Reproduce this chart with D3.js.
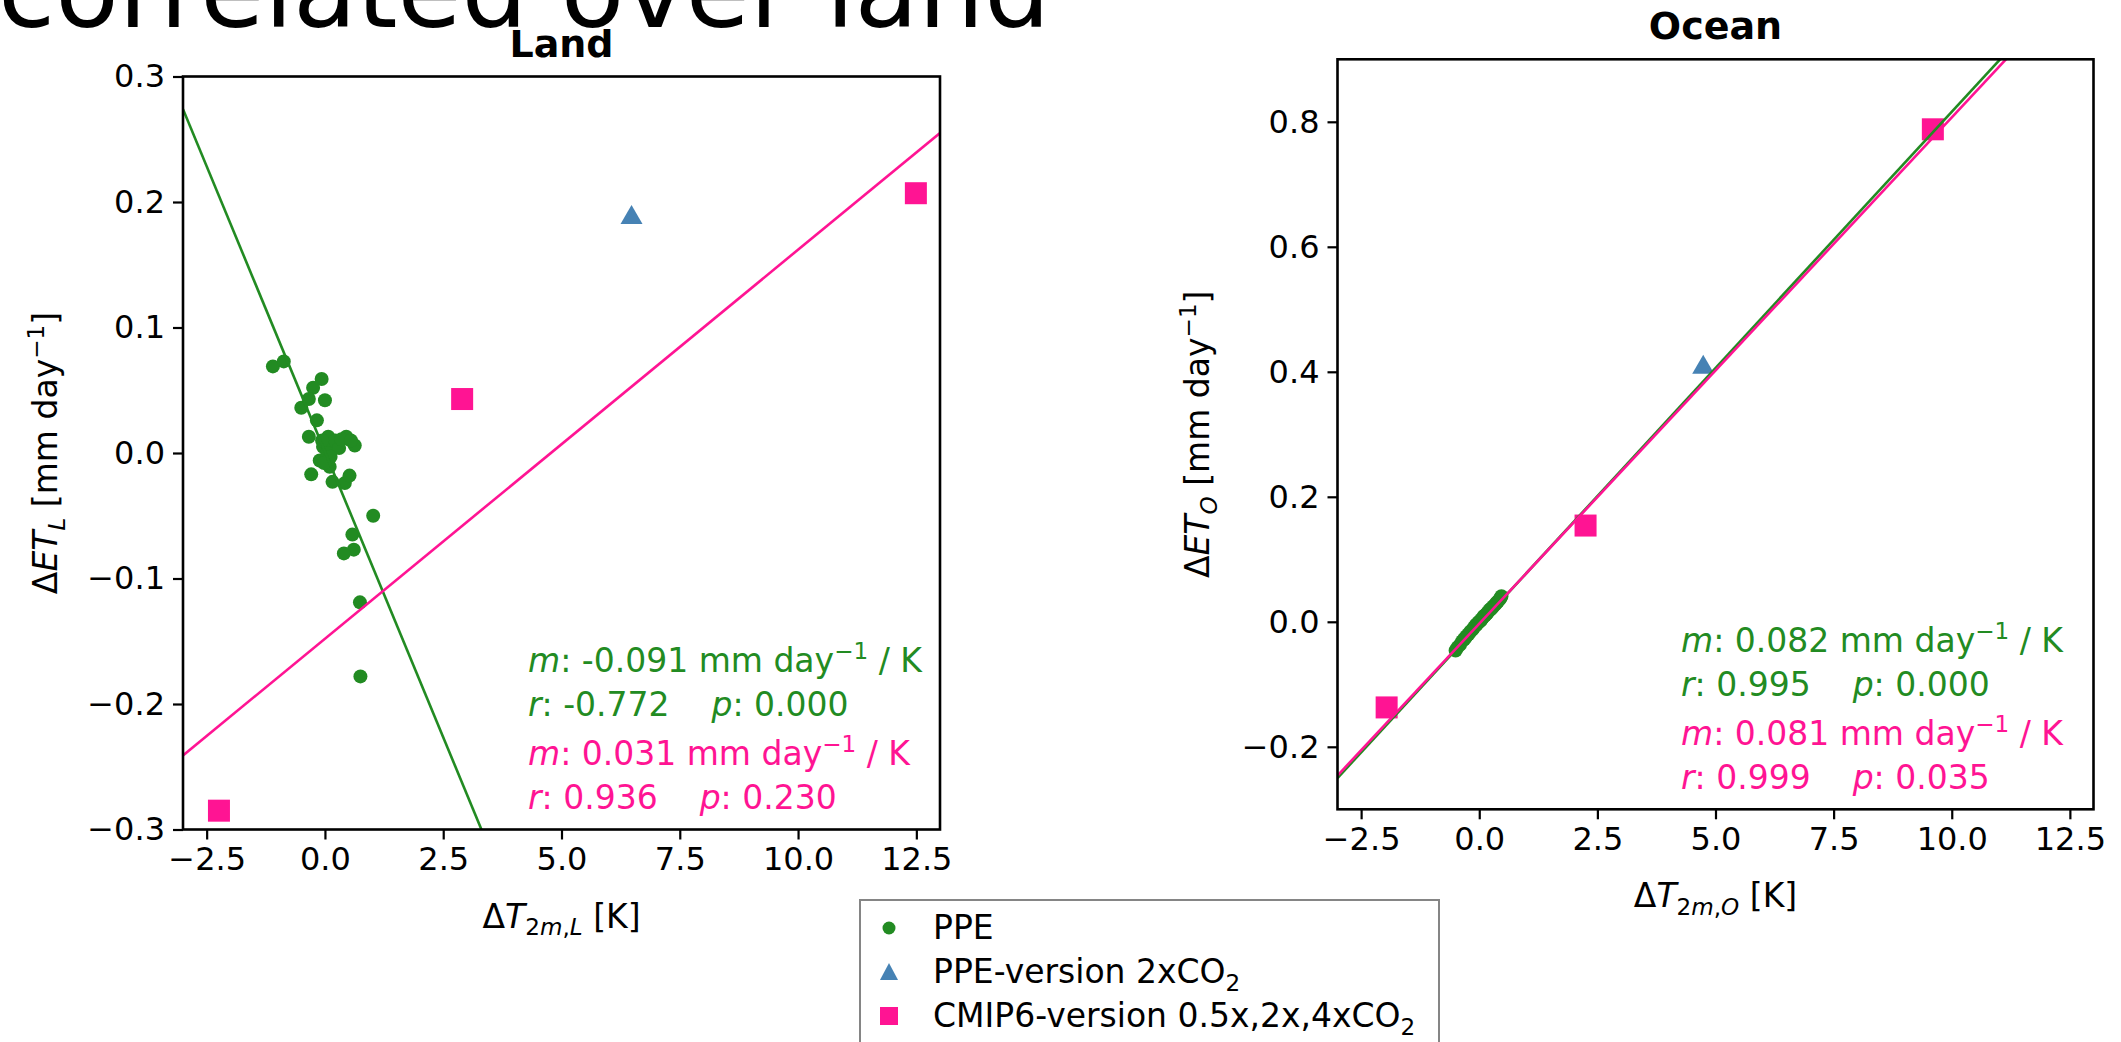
<!DOCTYPE html>
<html>
<head>
<meta charset="utf-8">
<script src="https://cdn.jsdelivr.net/npm/d3@7"></script>
<style>
  body { margin: 0; background: #fff; }
  svg { display: block; font-family: "DejaVu Sans", sans-serif; }
  text { white-space: pre; }
</style>
</head>
<body>
<svg id="fig" width="2121" height="1042"></svg>
<script>
// ---------------- data ----------------
// Perturbed-parameter ensemble (PPE), land means
const landPpeDT  = [-1.10, -0.87, -0.07, -0.25, 0.00, -0.50, -0.34, -0.17, -0.34, 0.07, 0.45, 0.63,
                    -0.04, 0.14, -0.11, 0.10, -0.29, 0.16, 0.42, 0.52, 1.02, 0.58, 0.61, 0.40,
                    0.74, 0.75, 0.05, 0.22, -0.06, 0.30, 0.12, 0.35, 0.55, -0.02];
const landPpeDET = [0.069, 0.073, 0.059, 0.052, 0.042, 0.036, 0.043, 0.026, 0.013, 0.013, 0.013, 0.006,
                    0.005, 0.008, -0.006, -0.011, -0.017, -0.023, -0.024, -0.018, -0.050, -0.065, -0.077, -0.080,
                    -0.119, -0.178, 0.000, 0.010, 0.010, 0.004, -0.003, 0.011, 0.010, -0.008];
// PPE, ocean means
const oceanPpeDT  = [-0.50, -0.46, -0.41, -0.36, -0.32, -0.27, -0.23, -0.19, -0.15, -0.11, -0.08, -0.05,
                     -0.02, 0.00, 0.03, 0.05, 0.08, 0.10, 0.13, 0.16, 0.18, 0.21, 0.24, 0.27,
                     0.30, 0.33, 0.36, 0.39, 0.42, 0.45, 0.47, -0.30, 0.12, 0.25];
const oceanPpeDET = [-0.046, -0.041, -0.037, -0.031, -0.028, -0.023, -0.020, -0.016, -0.013, -0.009, -0.006, -0.004,
                     -0.001, 0.000, 0.002, 0.004, 0.007, 0.009, 0.011, 0.013, 0.015, 0.018, 0.020, 0.022,
                     0.025, 0.027, 0.030, 0.032, 0.035, 0.038, 0.041, -0.026, 0.010, 0.021];
// PPE-version under 2xCO2
const land2xDT = [6.48],  land2xDET = [0.190];
const ocean2xDT = [4.74], ocean2xDET = [0.412];
// CMIP6-version 0.5x, 2x, 4xCO2
const landCmipDT = [-2.24, 2.90, 12.49],  landCmipDET = [-0.285, 0.043, 0.207];
const oceanCmipDT = [-1.96, 2.25, 9.60],  oceanCmipDET = [-0.137, 0.154, 0.788];

// regression results: [PPE, CMIP6]
const landSlopes = [-0.091, 0.031],   landIntercepts = [0.001, -0.148];
const landR = [-0.772, 0.936],        landP = [0.000, 0.230];
const oceanSlopes = [0.082, 0.081],   oceanIntercepts = [-0.004, -0.003];
const oceanR = [0.995, 0.999],        oceanP = [0.000, 0.035];

// axis ticks
const xTicks = [-2.5, 0.0, 2.5, 5.0, 7.5, 10.0, 12.5];
const landYTicks = [-0.3, -0.2, -0.1, 0.0, 0.1, 0.2, 0.3];
const oceanYTicks = [-0.2, 0.0, 0.2, 0.4, 0.6, 0.8];

const legendLabels = [
  [["PPE", "n"]],
  [["PPE-version 2xCO", "n"], ["2", "sub"]],
  [["CMIP6-version 0.5x,2x,4xCO", "n"], ["2", "sub"]]
];

// ---------------- styling ----------------
const GREEN = "#228b22", PINK = "#ff1493", BLUE = "#4682b4";
const TICK_FS = 32, LABEL_FS = 33, NOTE_FS = 33, TITLE_FS = 38, LEGEND_FS = 33;

const svg = d3.select("#fig");

// text with italic / sub / superscript runs
function richText(parent, x, y, parts, size) {
  const t = parent.append("text").attr("x", x).attr("y", y).attr("font-size", size);
  let shift = 0;
  parts.forEach(([s, kind]) => {
    let target = 0, fs = size;
    if (kind.includes("sub")) { target = 0.24 * size; fs = 0.7 * size; }
    if (kind.includes("sup")) { target = -0.40 * size; fs = 0.7 * size; }
    const sp = t.append("tspan").text(s).attr("font-size", fs);
    if (target - shift !== 0) sp.attr("dy", target - shift);
    if (kind === "i" || kind === "isub") sp.attr("font-style", "italic");
    shift = target;
  });
  return t;
}

const fmt3 = v => (v < 0 ? "-" : "") + Math.abs(v).toFixed(3);
const tickFmt = d3.format(".1f");

function panel(cfg) {
  const { left, right, top, bottom } = cfg.box;
  const x = d3.scaleLinear().domain(cfg.xDomain).range([left, right]);
  const y = d3.scaleLinear().domain(cfg.yDomain).range([bottom, top]);
  const g = svg.append("g");

  const clipId = "clip-" + cfg.id;
  svg.append("clipPath").attr("id", clipId)
    .append("rect").attr("x", left).attr("y", top)
    .attr("width", right - left).attr("height", bottom - top);

  const plot = g.append("g").attr("clip-path", `url(#${clipId})`);

  // PPE members
  plot.selectAll("circle.ppe").data(cfg.ppeDT).join("circle")
    .attr("class", "ppe")
    .attr("cx", d => x(d)).attr("cy", (d, i) => y(cfg.ppeDET[i]))
    .attr("r", 7).attr("fill", GREEN);

  // PPE-version 2xCO2
  const triW = 22, triH = 19;
  plot.selectAll("path.tri").data(cfg.twoxDT).join("path")
    .attr("class", "tri")
    .attr("d", (d, i) => {
      const cx = x(d), cy = y(cfg.twoxDET[i]);
      return `M${cx},${cy - triH / 2}L${cx + triW / 2},${cy + triH / 2}L${cx - triW / 2},${cy + triH / 2}Z`;
    })
    .attr("fill", BLUE);

  // CMIP6-version
  const sq = 22;
  plot.selectAll("rect.cmip").data(cfg.cmipDT).join("rect")
    .attr("class", "cmip")
    .attr("x", d => x(d) - sq / 2).attr("y", (d, i) => y(cfg.cmipDET[i]) - sq / 2)
    .attr("width", sq).attr("height", sq).attr("fill", PINK);

  // regression lines
  const line = d3.line().x(d => x(d[0])).y(d => y(d[1]));
  [GREEN, PINK].forEach((c, k) => {
    const pts = cfg.xDomain.map(v => [v, cfg.intercepts[k] + cfg.slopes[k] * v]);
    plot.append("path").attr("d", line(pts))
      .attr("fill", "none").attr("stroke", c).attr("stroke-width", 2.6);
  });

  // axes
  const xAxis = d3.axisBottom(x).tickValues(xTicks).tickFormat(tickFmt)
    .tickSize(10).tickSizeOuter(0).tickPadding(8);
  const yAxis = d3.axisLeft(y).tickValues(cfg.yTicks).tickFormat(tickFmt)
    .tickSize(10).tickSizeOuter(0).tickPadding(8);
  const gx = g.append("g").attr("transform", `translate(0,${bottom})`).call(xAxis);
  const gy = g.append("g").attr("transform", `translate(${left},0)`).call(yAxis);
  [gx, gy].forEach(a => {
    a.select(".domain").remove();
    a.selectAll(".tick line").attr("stroke", "#000").attr("stroke-width", 2.2);
    a.selectAll(".tick text").attr("font-size", TICK_FS)
      .attr("font-family", "DejaVu Sans").attr("fill", "#000");
  });

  // frame
  g.append("rect").attr("x", left).attr("y", top)
    .attr("width", right - left).attr("height", bottom - top)
    .attr("fill", "none").attr("stroke", "#000").attr("stroke-width", 2.6);

  // title
  g.append("text").attr("x", (left + right) / 2).attr("y", top - 20)
    .attr("text-anchor", "middle").attr("font-size", TITLE_FS).attr("font-weight", "bold")
    .text(cfg.title);

  // axis labels
  richText(g, (left + right) / 2, bottom + 98, cfg.xLabel, LABEL_FS)
    .attr("text-anchor", "middle");
  richText(g, 0, 0, cfg.yLabel, LABEL_FS)
    .attr("text-anchor", "middle")
    .attr("transform", `translate(${cfg.yLabelX},${(top + bottom) / 2}) rotate(-90)`);

  // regression statistics
  const nx = cfg.noteX, ny = cfg.noteY;
  const offs = [0, 44, 93, 137];
  [GREEN, PINK].forEach((c, k) => {
    richText(g, nx, ny + offs[2 * k],
      [["m", "i"], [": " + fmt3(cfg.slopes[k]) + " mm day", "n"], ["\u22121", "sup"], [" / K", "n"]], NOTE_FS)
      .attr("fill", c);
    richText(g, nx, ny + offs[2 * k + 1],
      [["r", "i"], [": " + fmt3(cfg.r[k]) + "    ", "n"], ["p", "i"], [": " + fmt3(cfg.p[k]), "n"]], NOTE_FS)
      .attr("fill", c);
  });
}

// heading of the slide, running off the top edge (drawn first, under the panels)
svg.append("text").attr("x", -2).attr("y", 27)
  .attr("font-size", 104).attr("fill", "#000")
  .text("correlated over land");

panel({
  id: "land", title: "Land",
  box: { left: 183, right: 940, top: 76.5, bottom: 829.5 },
  xDomain: [-3, 13], yDomain: [-0.3, 0.3], yTicks: landYTicks,
  ppeDT: landPpeDT, ppeDET: landPpeDET,
  twoxDT: land2xDT, twoxDET: land2xDET,
  cmipDT: landCmipDT, cmipDET: landCmipDET,
  slopes: landSlopes, intercepts: landIntercepts, r: landR, p: landP,
  noteX: 528, noteY: 672, yLabelX: 57,
  xLabel: [["\u0394", "n"], ["T", "i"], ["2", "sub"], ["m", "isub"], [",", "sub"], ["L", "isub"], [" [K]", "n"]],
  yLabel: [["\u0394", "n"], ["ET", "i"], ["L", "isub"], [" [mm day", "n"], ["\u22121", "sup"], ["]", "n"]]
});

panel({
  id: "ocean", title: "Ocean",
  box: { left: 1337.5, right: 2093.5, top: 59.3, bottom: 809.3 },
  xDomain: [-3, 13], yDomain: [-0.3, 0.9], yTicks: oceanYTicks,
  ppeDT: oceanPpeDT, ppeDET: oceanPpeDET,
  twoxDT: ocean2xDT, twoxDET: ocean2xDET,
  cmipDT: oceanCmipDT, cmipDET: oceanCmipDET,
  slopes: oceanSlopes, intercepts: oceanIntercepts, r: oceanR, p: oceanP,
  noteX: 1681, noteY: 652, yLabelX: 1209,
  xLabel: [["\u0394", "n"], ["T", "i"], ["2", "sub"], ["m", "isub"], [",", "sub"], ["O", "isub"], [" [K]", "n"]],
  yLabel: [["\u0394", "n"], ["ET", "i"], ["O", "isub"], [" [mm day", "n"], ["\u22121", "sup"], ["]", "n"]]
});

// ---------------- legend ----------------
const lg = svg.append("g");
lg.append("rect").attr("x", 860).attr("y", 900).attr("width", 579).attr("height", 170)
  .attr("fill", "#fff").attr("stroke", "#858585").attr("stroke-width", 2);
const rowY = [928, 972, 1016];
lg.append("circle").attr("cx", 889).attr("cy", rowY[0]).attr("r", 6.5).attr("fill", GREEN);
lg.append("path")
  .attr("d", `M889,${rowY[1] - 9}L898,${rowY[1] + 8}L880,${rowY[1] + 8}Z`).attr("fill", BLUE);
lg.append("rect").attr("x", 880).attr("y", rowY[2] - 9).attr("width", 18).attr("height", 18).attr("fill", PINK);
legendLabels.forEach((parts, i) => {
  richText(lg, 933, rowY[i] + 11, parts, LEGEND_FS).attr("fill", "#000");
});
</script>
</body>
</html>
